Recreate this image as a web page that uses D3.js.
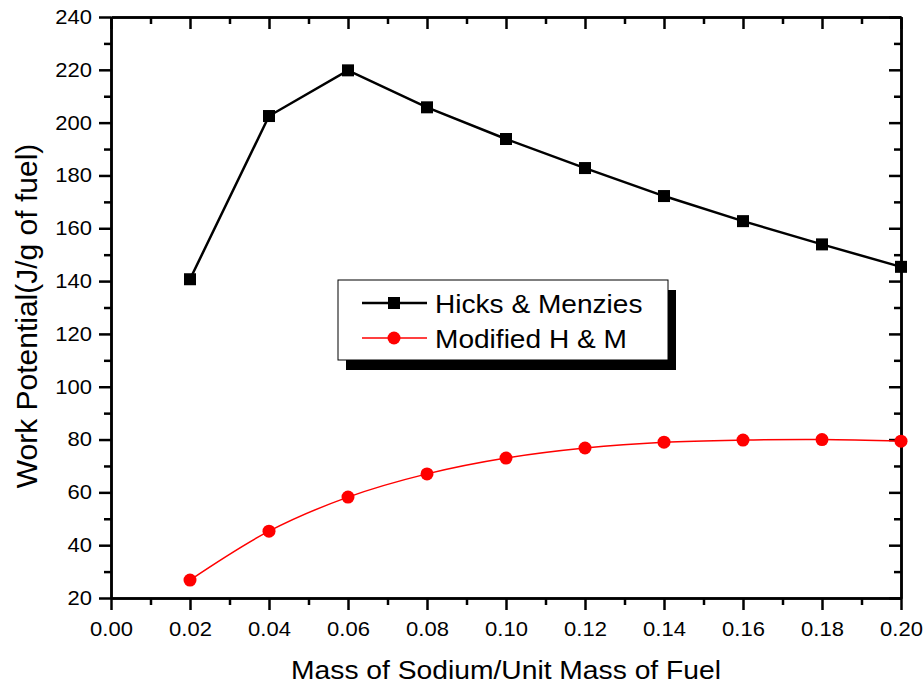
<!DOCTYPE html>
<html>
<head>
<meta charset="utf-8">
<script src="https://cdn.jsdelivr.net/npm/d3@7"></script>
<style>
  body { margin: 0; background: #fff; }
  svg text { font-family: "Liberation Sans", Arial, sans-serif; fill: #000; }
</style>
</head>
<body>
<div id="chart"></div>
<script>
// Veriler
const massRatio = [0.02, 0.04, 0.06, 0.08, 0.10, 0.12, 0.14, 0.16, 0.18, 0.20];
const hicksMenzies = [140.7, 202.5, 219.8, 205.8, 193.8, 182.8, 172.2, 162.7, 153.9, 145.4];
const modifiedHM = [26.8, 45.3, 58.2, 67.0, 73.0, 76.8, 79.0, 79.8, 80.0, 79.4];
const xTicks = [0.00, 0.02, 0.04, 0.06, 0.08, 0.10, 0.12, 0.14, 0.16, 0.18, 0.20];
const yTicks = [20, 40, 60, 80, 100, 120, 140, 160, 180, 200, 220, 240];

const width = 924, height = 686;
const margin = { top: 17, right: 23, bottom: 88, left: 111 };
const innerW = width - margin.left - margin.right;
const innerH = height - margin.top - margin.bottom;
const stretch = 1.1; // orijinal resimde yazılar yatayda biraz geniş

const svg = d3.select("#chart").append("svg")
    .attr("width", width)
    .attr("height", height);

const g = svg.append("g").attr("transform", `translate(${margin.left},${margin.top})`);

const x = d3.scaleLinear().domain([0, 0.20]).range([0, innerW]);
const y = d3.scaleLinear().domain([20, 240]).range([innerH, 0]);

const fmtX = d3.format(".2f");
const minorX = d3.range(0.01, 0.20, 0.02);
const minorY = d3.range(30, 240, 20);

function styleAxis(sel) {
    sel.select(".domain").attr("stroke-width", 2.5).attr("stroke", "#000");
    sel.selectAll(".tick line").attr("stroke-width", 2.5).attr("stroke", "#000");
    sel.selectAll(".tick text").style("font-size", "20px");
}

// alt (etiketli)
g.append("g").attr("transform", `translate(0,${innerH})`)
    .call(d3.axisBottom(x).tickValues(xTicks).tickFormat(fmtX).tickSizeInner(12).tickSizeOuter(0).tickPadding(12))
    .call(styleAxis)
    .selectAll(".tick text").attr("transform", `scale(${stretch},1)`);
g.append("g").attr("transform", `translate(0,${innerH})`)
    .call(d3.axisBottom(x).tickValues(minorX).tickFormat("").tickSizeInner(7).tickSizeOuter(0))
    .call(styleAxis);
// üst (sadece içe dönük tikler)
g.append("g")
    .call(d3.axisBottom(x).tickValues(xTicks).tickFormat("").tickSizeInner(12).tickSizeOuter(0))
    .call(styleAxis);
g.append("g")
    .call(d3.axisBottom(x).tickValues(minorX).tickFormat("").tickSizeInner(7).tickSizeOuter(0))
    .call(styleAxis);
// sol (etiketli)
g.append("g")
    .call(d3.axisLeft(y).tickValues(yTicks).tickSizeInner(12).tickSizeOuter(0).tickPadding(7))
    .call(styleAxis)
    .selectAll(".tick text")
    .attr("x", -19 / stretch)
    .attr("transform", `scale(${stretch},1)`);
g.append("g")
    .call(d3.axisLeft(y).tickValues(minorY).tickFormat("").tickSizeInner(7).tickSizeOuter(0))
    .call(styleAxis);
// sağ
g.append("g").attr("transform", `translate(${innerW},0)`)
    .call(d3.axisLeft(y).tickValues(yTicks).tickFormat("").tickSizeInner(12).tickSizeOuter(0))
    .call(styleAxis);
g.append("g").attr("transform", `translate(${innerW},0)`)
    .call(d3.axisLeft(y).tickValues(minorY).tickFormat("").tickSizeInner(7).tickSizeOuter(0))
    .call(styleAxis);

// Seriler
const hmData = massRatio.map((m, i) => ({ x: m, y: hicksMenzies[i] }));
const modData = massRatio.map((m, i) => ({ x: m, y: modifiedHM[i] }));

const straight = d3.line().x(d => x(d.x)).y(d => y(d.y));
const smooth = d3.line().x(d => x(d.x)).y(d => y(d.y)).curve(d3.curveCatmullRom);

g.append("path").datum(hmData)
    .attr("d", straight)
    .attr("fill", "none")
    .attr("stroke", "#000")
    .attr("stroke-width", 2.5);

g.append("path").datum(modData)
    .attr("d", smooth)
    .attr("fill", "none")
    .attr("stroke", "#ff0000")
    .attr("stroke-width", 1.5);

const sq = 12;
g.selectAll(".hm-pt").data(hmData).enter()
    .append("rect")
    .attr("class", "hm-pt")
    .attr("x", d => x(d.x) - sq / 2)
    .attr("y", d => y(d.y) - sq / 2)
    .attr("width", sq)
    .attr("height", sq)
    .attr("fill", "#000");

g.selectAll(".mod-pt").data(modData).enter()
    .append("circle")
    .attr("class", "mod-pt")
    .attr("cx", d => x(d.x))
    .attr("cy", d => y(d.y))
    .attr("r", 6.5)
    .attr("fill", "#ff0000");

// Eksen başlıkları
svg.append("text")
    .attr("transform", `translate(${margin.left + innerW / 2},679) scale(1.13,1)`)
    .attr("text-anchor", "middle")
    .style("font-size", "25px")
    .text("Mass of Sodium/Unit Mass of Fuel");

svg.append("text")
    .attr("transform", `translate(37,316) rotate(-90)`)
    .attr("text-anchor", "middle")
    .style("font-size", "30px")
    .text("Work Potential(J/g of fuel)");

// Lejant (gölgeli kutu)
const lg = svg.append("g").attr("transform", "translate(338,280)");
const lw = 330, lh = 80;
lg.append("rect").attr("x", 8).attr("y", 10).attr("width", lw).attr("height", lh).attr("fill", "#000");
lg.append("rect").attr("width", lw).attr("height", lh).attr("fill", "#fff").attr("stroke", "#000").attr("stroke-width", 1);

const legendItems = [
    { label: "Hicks & Menzies", color: "#000", width: 2.5, shape: "square" },
    { label: "Modified H & M", color: "#ff0000", width: 1.5, shape: "circle" }
];
legendItems.forEach((it, i) => {
    const cy = 23 + i * 35;
    lg.append("line").attr("x1", 24).attr("x2", 89).attr("y1", cy).attr("y2", cy)
        .attr("stroke", it.color).attr("stroke-width", it.width);
    if (it.shape === "square") {
        lg.append("rect").attr("x", 56 - sq / 2).attr("y", cy - sq / 2).attr("width", sq).attr("height", sq).attr("fill", it.color);
    } else {
        lg.append("circle").attr("cx", 56).attr("cy", cy).attr("r", 6.5).attr("fill", it.color);
    }
    lg.append("text")
        .attr("transform", `translate(97,${cy + 9.5}) scale(1.08,1)`)
        .style("font-size", "26px")
        .text(it.label);
});
</script>
</body>
</html>
